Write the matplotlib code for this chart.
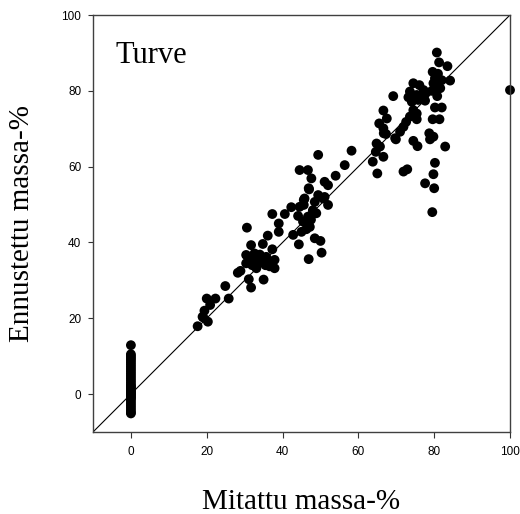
import matplotlib
matplotlib.use("Agg")
import matplotlib.pyplot as plt
import numpy as np

# Measured (x) vs predicted (y) mass-%
zero_col_y = [12.9, 10.5, 10.0, 9.5, 9.0, 8.4, 7.8, 7.2, 6.6, 6.0, 5.4, 4.8, 4.2, 3.6,
              3.0, 2.4, 1.8, 1.2, 0.6, 0.0, -0.6, -1.2, -1.8, -2.4, -3.0, -3.6,
              -4.2, -4.8, -5.1, 2.0, 1.0, -1.0, 0.3, -0.3]

meas = [17.6, 18.9, 19.4, 20.3, 20.9, 20.0, 22.3, 19.1, 25.8, 24.9,
        28.2, 28.9, 31.1, 31.7, 35.0, 30.6, 31.7, 34.8, 36.1, 37.3, 30.4, 30.4,
        32.6, 33.1, 33.9, 35.7, 36.6, 37.9, 37.9, 31.5, 32.0, 34.5, 32.5, 34.0,
        36.0, 31.0, 33.0, 35.5,
        37.3, 39.0, 39.0, 40.6, 42.3, 42.8, 44.3, 44.1, 45.0, 45.4, 46.3, 47.2,
        46.3, 45.6, 45.6, 46.9, 47.6, 48.5, 50.0, 46.9, 50.3, 46.7, 48.9, 48.0,
        47.5, 44.5, 48.5, 49.4, 51.1, 52.0, 50.7, 47.0, 44.5, 46.7, 47.6, 51.1,
        52.0, 49.4, 54.0, 56.4, 58.2, 45.8,
        63.8, 64.6, 64.8, 65.0, 66.6, 65.7, 66.7, 67.3, 66.6, 67.5, 65.5, 66.6,
        69.2, 69.7, 71.0, 71.9, 72.6, 69.9, 71.9, 72.9,
        73.6, 73.2, 74.1, 75.4, 75.8, 77.6, 74.5, 76.1, 77.2, 74.5, 75.4, 73.6,
        75.4, 74.5, 75.6, 78.7, 79.8, 78.9, 82.9, 80.2, 79.8, 77.6, 80.0, 79.5,
        79.6, 81.4, 80.2, 82.0, 80.8, 79.4, 81.6, 82.0, 84.2, 79.8, 80.2, 79.6,
        83.5, 81.3, 80.7, 80.5, 81.0, 77.5,
        100.0]

pred = [17.9, 20.4, 22.0, 19.1, 23.5, 25.2, 25.2, 20.2, 25.2, 28.5,
        32.0, 32.5, 30.3, 28.1, 30.2, 43.9, 39.3, 39.6, 41.8, 38.2, 34.5, 36.7,
        37.1, 33.2, 35.4, 36.2, 33.7, 35.4, 33.2, 35.0, 34.0, 34.8, 35.8, 36.8,
        35.0, 36.0, 34.5, 34.0,
        47.5, 45.0, 42.8, 47.5, 49.3, 42.0, 39.5, 47.0, 42.8, 45.5, 43.5, 44.1,
        45.0, 49.9, 51.2, 54.3, 47.2, 41.1, 40.4, 35.6, 37.3, 46.8, 47.7, 48.5,
        46.0, 49.4, 50.7, 52.5, 52.0, 49.9, 51.6, 54.0, 59.1, 59.1, 56.9, 56.0,
        55.1, 63.1, 57.6, 60.4, 64.2, 51.6,
        61.3, 63.9, 66.1, 58.2, 62.6, 65.3, 68.8, 68.6, 70.1, 72.7, 71.4, 74.8,
        78.6, 67.5, 69.2, 70.5, 71.8, 67.2, 58.7, 59.3,
        79.8, 78.3, 77.1, 78.9, 77.6, 77.4, 82.0, 81.5, 80.2, 74.9, 74.0, 73.2,
        72.5, 66.8, 65.4, 68.8, 67.9, 67.2, 65.3, 61.0, 58.0, 55.6, 54.3, 48.0,
        72.5, 72.5, 75.6, 75.6, 78.6, 80.0, 80.7, 82.8, 82.7, 82.0, 83.3, 85.0,
        86.5, 87.5, 90.1, 81.0, 84.5, 79.0,
        80.2]

x_all = [0.0] * len(zero_col_y) + meas
y_all = zero_col_y + pred

xticks = [0, 20, 40, 60, 80, 100]
yticks = [0, 20, 40, 60, 80, 100]
lims = [-10, 100]

fig = plt.figure(figsize=(5.2, 5.14), dpi=100)
ax = fig.add_axes([93/520, (514-432)/514, 417/520, 417/514])

ax.plot(lims, lims, color="black", lw=0.8, zorder=1)
ax.scatter(x_all, y_all, s=50, color="black", edgecolors="none", zorder=2, clip_on=False)

ax.set_xlim(lims)
ax.set_ylim(lims)
ax.set_xticks(xticks)
ax.set_yticks(yticks)
for lab in ax.get_xticklabels() + ax.get_yticklabels():
    lab.set_fontfamily("Liberation Sans")
    lab.set_fontsize(8.5)
ax.tick_params(axis="x", direction="out", length=4, width=0.8, color="#333333", pad=6, top=False)
ax.tick_params(axis="y", direction="out", length=3.5, width=0.8, color="#333333", pad=5, right=False)
for s in ax.spines.values():
    s.set_color("#404040")
    s.set_linewidth(1.0)

ax.set_xlabel("Mitattu massa-%", fontfamily="Liberation Serif", fontsize=21, va="baseline")
ax.xaxis.set_label_coords(0.5, (432 - 509) / 417)
ax.set_ylabel("Ennustettu massa-%", fontfamily="Liberation Serif", fontsize=21, va="center")
ax.yaxis.set_label_coords((22 - 93) / 417, 0.5)
ax.text(0.053, 0.885, "Turve", transform=ax.transAxes, fontfamily="Liberation Serif",
        fontsize=22, ha="left", va="baseline")

fig.savefig("out.png", dpi=100)
